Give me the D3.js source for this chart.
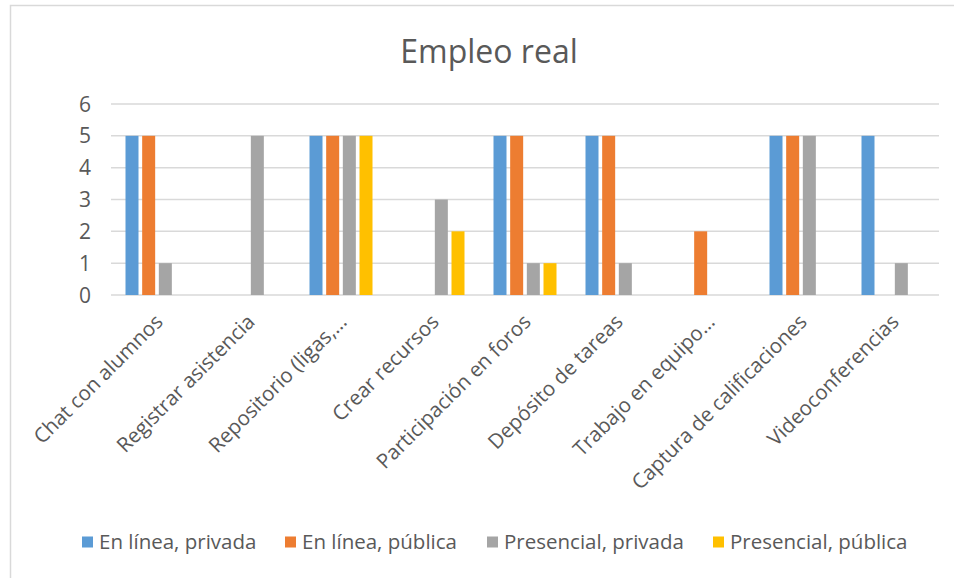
<!DOCTYPE html>
<html>
<head>
<meta charset="utf-8">
<script src="https://cdn.jsdelivr.net/npm/d3@7"></script>
<style>
  body { margin: 0; background: #fff; }
  text { font-family: "Open Sans", "Noto Sans", sans-serif; fill: #595959; }
</style>
</head>
<body>
<div id="chart"></div>
<script>
const categories = [
  'Chat con alumnos',
  'Registrar asistencia',
  'Repositorio (ligas,...',
  'Crear recursos',
  'Participación en foros',
  'Depósito de tareas',
  'Trabajo en equipo...',
  'Captura de calificaciones',
  'Videoconferencias'
]
const seriesNames = ['En línea, privada', 'En línea, pública', 'Presencial, privada', 'Presencial, pública']
const enLineaPrivada = [5, 0, 5, 0, 5, 5, 0, 5, 5]
const enLineaPublica = [5, 0, 5, 0, 5, 5, 2, 5, 0]
const presencialPrivada = [1, 5, 5, 3, 1, 1, 0, 5, 1]
const presencialPublica = [0, 0, 5, 2, 1, 0, 0, 0, 0]
const yTicks = [0, 1, 2, 3, 4, 5, 6]
const colors = ['#5B9BD5', '#ED7D31', '#A5A5A5', '#FFC000']

const seriesValues = [enLineaPrivada, enLineaPublica, presencialPrivada, presencialPublica]

const width = 954
const height = 578

const svg = d3.select('#chart')
  .append('svg')
  .attr('width', width)
  .attr('height', height)

// chart frame (runs off the right and bottom edge)
svg.append('rect')
  .attr('x', 10.5)
  .attr('y', 5.5)
  .attr('width', 980)
  .attr('height', 620)
  .attr('fill', '#fff')
  .attr('stroke', '#d9d9d9')
  .attr('stroke-width', 1.5)

svg.append('text')
  .attr('x', 489)
  .attr('y', 63)
  .attr('text-anchor', 'middle')
  .style('font-size', '32px')
  .text('Empleo real')

const x0 = d3.scaleBand()
  .domain(categories)
  .range([111, 939])

const x1 = d3.scaleBand()
  .domain(seriesNames)
  .range([14.5, 77.5])
  .paddingInner(0.22)

const y = d3.scaleLinear()
  .domain([0, 6])
  .range([295, 104])

// gridlines
svg.append('g')
  .selectAll('line')
  .data(yTicks)
  .join('line')
  .attr('x1', 111)
  .attr('x2', 939)
  .attr('y1', d => y(d))
  .attr('y2', d => y(d))
  .attr('stroke', '#d9d9d9')
  .attr('stroke-width', 1.5)

// y tick labels
svg.append('g')
  .selectAll('text')
  .data(yTicks)
  .join('text')
  .attr('x', 91)
  .attr('y', d => y(d))
  .attr('dy', '0.36em')
  .attr('text-anchor', 'end')
  .style('font-size', '21px')
  .text(d => d)

// bars
const groups = svg.append('g')
  .selectAll('g')
  .data(categories)
  .join('g')
  .attr('transform', d => `translate(${x0(d)},0)`)

groups.selectAll('rect')
  .data((d, i) => seriesNames.map((s, j) => ({ s, v: seriesValues[j][i], c: colors[j] })))
  .join('rect')
  .attr('x', d => x1(d.s))
  .attr('width', x1.bandwidth())
  .attr('y', d => y(d.v))
  .attr('height', d => y(0) - y(d.v))
  .attr('fill', d => d.c)

// category labels
svg.append('g')
  .selectAll('text')
  .data(categories)
  .join('text')
  .attr('transform', d => `translate(${x0(d) + x0.bandwidth() / 2 + 2},${318}) rotate(-45)`)
  .attr('text-anchor', 'end')
  .attr('dy', '0.35em')
  .style('font-size', '20.5px')
  .text(d => d)

// legend
const legendX = [82, 285, 487, 713]
const legend = svg.append('g')
  .selectAll('g')
  .data(seriesNames)
  .join('g')
  .attr('transform', (d, i) => `translate(${legendX[i]},542)`)

legend.append('rect')
  .attr('x', 0)
  .attr('y', -5.5)
  .attr('width', 11)
  .attr('height', 11)
  .attr('fill', (d, i) => colors[i])

legend.append('text')
  .attr('x', 17)
  .attr('dy', '0.36em')
  .style('font-size', '20.5px')
  .text(d => d)
</script>
</body>
</html>
